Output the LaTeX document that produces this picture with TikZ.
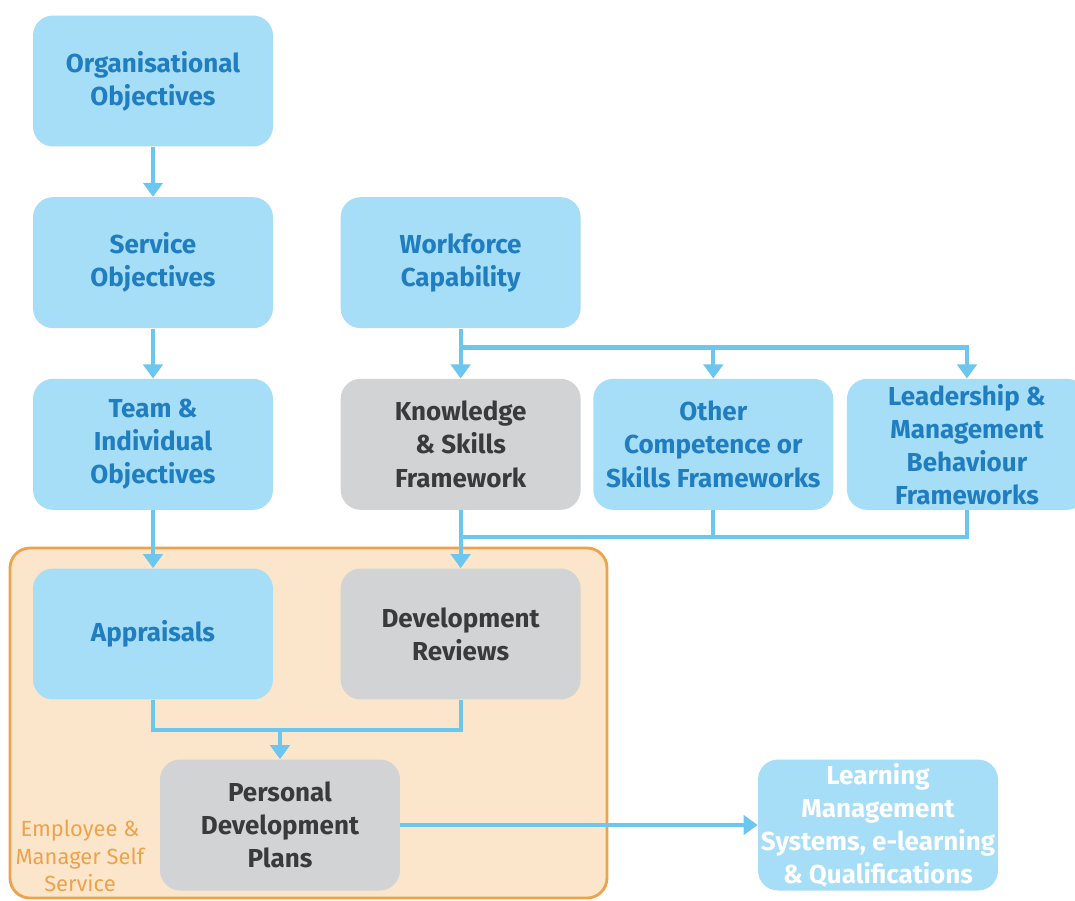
\documentclass[tikz,border=0pt]{standalone}
\usepackage{fontspec}
\setmainfont{Fira Sans}
\usetikzlibrary{positioning,arrows.meta}

\definecolor{boxblue}{HTML}{A6DDF7}
\definecolor{boxgray}{HTML}{D1D3D4}
\definecolor{textblue}{HTML}{1F7DC0}
\definecolor{textgray}{HTML}{3A3A3A}
\definecolor{linkblue}{HTML}{6CC6EE}
\definecolor{zonefill}{HTML}{FBE6CC}
\definecolor{zoneline}{HTML}{EEA24A}

\tikzset{
  obj/.style={fill=boxblue, rounded corners=0.4cm, minimum width=4.8cm, minimum height=2.62cm,
    inner sep=1pt, align=center, text=textblue, font=\fontsize{14.8}{18.8}\selectfont\bfseries},
  fw/.style={obj, fill=boxgray, text=textgray},
  flow/.style={draw=linkblue, line width=2.3pt, -{Triangle[width=11pt,length=8pt]}},
  link/.style={draw=linkblue, line width=2.3pt}
}

\begin{document}
\begin{tikzpicture}[x=0.02cm, y=-0.02cm]
    \useasboundingbox (0,0) rectangle (1075,900);
    \clip (0,0) rectangle (1075,900);

    % self service zone
    \draw[fill=zonefill, draw=zoneline, line width=1.6pt, rounded corners=0.4cm] (10,548) rectangle (607,898);

    \node[obj] (org) at (153,81) {Organisational\\Objectives};
    \node[obj, below=1cm of org] (serv) {Service\\Objectives};
    \node[obj, below=1cm of serv] (team) {Team \&\\Individual\\Objectives};
    \node[obj, right=1.34cm of serv] (work) {Workforce\\Capability};
    \node[fw, below=1cm of work] (ksf) {Knowledge\\\& Skills\\Framework};
    \node[obj, right=0.24cm of ksf] (other) {Other\\Competence or\\Skills Frameworks};
    \node[obj, right=0.26cm of other] (lead) {Leadership \&\\Management\\Behaviour\\Frameworks};
    \node[obj, below=1.16cm of team] (appr) {Appraisals};
    \node[fw, below=1.16cm of ksf] (devrev) {Development\\Reviews};
    \node[fw] (pdp) at (280,825) {Personal\\Development\\Plans};
    \node[obj, text=white] (lms) at (878,825) {Learning\\Management\\Systems, e-learning\\\& Qualifications};
    \node[text=zoneline, align=center, font=\fontsize{12.5}{15.5}\selectfont] (esms) at (80,856) {Employee \&\\Manager Self\\Service};

    \draw[flow] (org) -- (serv);
    \draw[flow] (serv) -- (team);
    \draw[flow] (team) -- (appr);
    \draw[flow] (work) -- (ksf);
    \draw[flow] (work.south) ++(0,19) -| (other.north);
    \draw[flow] (work.south) ++(0,19) -| (lead.north);
    \draw[link] (other.south) -- ++(0,27);
    \draw[link] (lead.south) -- ++(0,27) -| (ksf.south);
    \draw[flow] (ksf) -- (devrev);
    \draw[link] (appr.south) -- ++(0,30) -| (devrev.south);
    \draw[flow] (pdp.north |- appr.south) ++(0,30) -- (pdp.north);
    \draw[flow] (pdp) -- (lms);
\end{tikzpicture}
\end{document}
